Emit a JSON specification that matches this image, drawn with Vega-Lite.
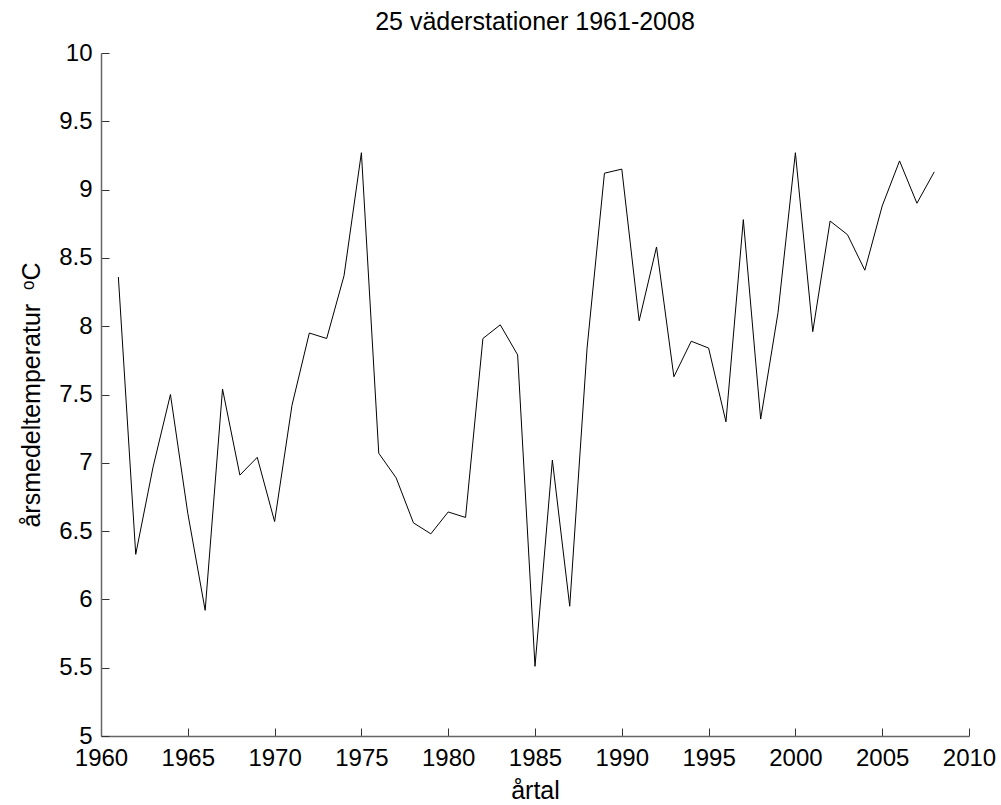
{
  "$schema": "https://vega.github.io/schema/vega-lite/v6.json",
  "width": 868,
  "height": 683,
  "autosize": "none",
  "padding": {"left": 101, "top": 53, "right": 32, "bottom": 69},
  "background": "white",
  "config": {
    "view": {"stroke": null},
    "font": "Liberation Sans"
  },
  "title": {
    "text": "25 väderstationer 1961-2008",
    "fontSize": 25,
    "fontWeight": "normal",
    "font": "Liberation Sans",
    "color": "black",
    "frame": "group",
    "anchor": "middle",
    "baseline": "alphabetic",
    "offset": -14
  },
  "data": {
    "values": [
      {"year": 1961, "temp": 8.36},
      {"year": 1962, "temp": 6.33},
      {"year": 1963, "temp": 6.97},
      {"year": 1964, "temp": 7.50},
      {"year": 1965, "temp": 6.63},
      {"year": 1966, "temp": 5.92},
      {"year": 1967, "temp": 7.54},
      {"year": 1968, "temp": 6.91},
      {"year": 1969, "temp": 7.04},
      {"year": 1970, "temp": 6.57},
      {"year": 1971, "temp": 7.42},
      {"year": 1972, "temp": 7.95},
      {"year": 1973, "temp": 7.91},
      {"year": 1974, "temp": 8.37},
      {"year": 1975, "temp": 9.27},
      {"year": 1976, "temp": 7.07},
      {"year": 1977, "temp": 6.89},
      {"year": 1978, "temp": 6.56},
      {"year": 1979, "temp": 6.48},
      {"year": 1980, "temp": 6.64},
      {"year": 1981, "temp": 6.60},
      {"year": 1982, "temp": 7.91},
      {"year": 1983, "temp": 8.01},
      {"year": 1984, "temp": 7.79},
      {"year": 1985, "temp": 5.51},
      {"year": 1986, "temp": 7.02},
      {"year": 1987, "temp": 5.95},
      {"year": 1988, "temp": 7.84},
      {"year": 1989, "temp": 9.12},
      {"year": 1990, "temp": 9.15},
      {"year": 1991, "temp": 8.04},
      {"year": 1992, "temp": 8.58},
      {"year": 1993, "temp": 7.63},
      {"year": 1994, "temp": 7.89},
      {"year": 1995, "temp": 7.84},
      {"year": 1996, "temp": 7.30},
      {"year": 1997, "temp": 8.78},
      {"year": 1998, "temp": 7.32},
      {"year": 1999, "temp": 8.10},
      {"year": 2000, "temp": 9.27},
      {"year": 2001, "temp": 7.96},
      {"year": 2002, "temp": 8.77},
      {"year": 2003, "temp": 8.67},
      {"year": 2004, "temp": 8.41},
      {"year": 2005, "temp": 8.88},
      {"year": 2006, "temp": 9.21},
      {"year": 2007, "temp": 8.90},
      {"year": 2008, "temp": 9.13}
    ]
  },
  "mark": {"type": "line", "color": "black", "strokeWidth": 1},
  "encoding": {
    "x": {
      "field": "year",
      "type": "quantitative",
      "scale": {"domain": [1960, 2010], "nice": false, "zero": false},
      "axis": {
        "title": "årtal",
        "values": [1960, 1965, 1970, 1975, 1980, 1985, 1990, 1995, 2000, 2005, 2010],
        "format": "d",
        "grid": false,
        "domainColor": "#666666",
        "domainWidth": 1.5,
        "tickColor": "#333333",
        "tickSize": -8,
        "labelPadding": 18,
        "labelFontSize": 24,
        "labelColor": "black",
        "labelFont": "Liberation Sans",
        "labelFlush": false,
        "titleFontSize": 25,
        "titleFontWeight": "normal",
        "titleColor": "black",
        "titleFont": "Liberation Sans",
        "titlePadding": 8
      }
    },
    "y": {
      "field": "temp",
      "type": "quantitative",
      "scale": {"domain": [5, 10], "nice": false, "zero": false},
      "axis": {
        "title": "årsmedeltemperatur \u00a0ᵒC",
        "values": [5, 5.5, 6, 6.5, 7, 7.5, 8, 8.5, 9, 9.5, 10],
        "format": "~g",
        "grid": false,
        "domainColor": "#666666",
        "domainWidth": 1.5,
        "tickColor": "#333333",
        "tickSize": -8,
        "labelPadding": 17,
        "labelFontSize": 24,
        "labelColor": "black",
        "labelFont": "Liberation Sans",
        "labelFlush": false,
        "titleFontSize": 25,
        "titleFontWeight": "normal",
        "titleColor": "black",
        "titleFont": "Liberation Sans",
        "titlePadding": 14
      }
    }
  }
}
